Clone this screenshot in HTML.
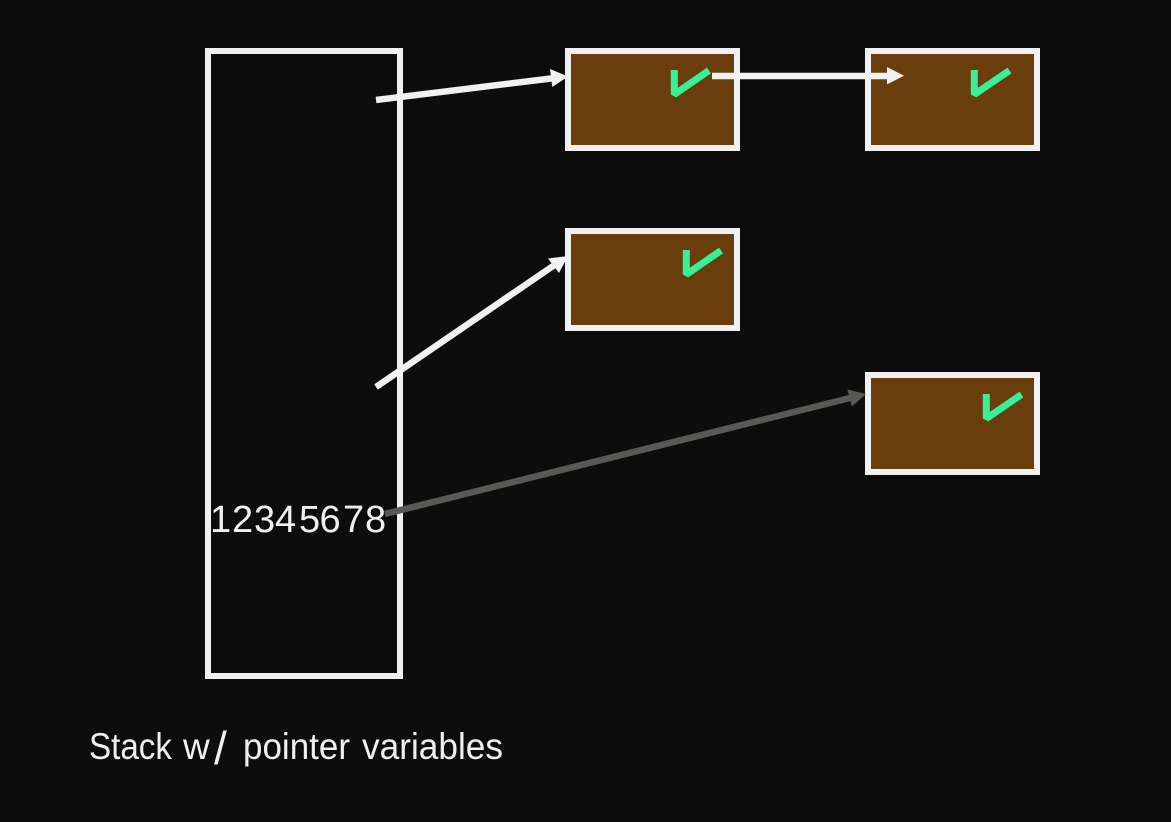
<!DOCTYPE html>
<html lang="en">
<head>
<meta charset="utf-8">
<title>Stack with pointer variables</title>
<style>
html,body{margin:0;padding:0;background:#0d0d0d;}
svg{display:block;}
text{font-family:"Liberation Sans",sans-serif;fill:#eef0f2;}
</style>
</head>
<body>
<svg width="1171" height="822" viewBox="0 0 1171 822" xmlns="http://www.w3.org/2000/svg">
  <rect x="0" y="0" width="1171" height="822" fill="#0d0d0d"/>

  <rect x="208" y="51" width="192" height="625" fill="none" stroke="#f1f1f1" stroke-width="6"/>

  <g>
    <rect x="568" y="51" width="169" height="97" fill="#693d0c" stroke="#f1f1f1" stroke-width="6"/>
    <polyline points="674.3,70 674.3,94.5 709,70.5" fill="none" stroke="#3af096" stroke-width="7" stroke-linejoin="bevel"/>
  </g>
  <g>
    <rect x="868" y="51" width="169" height="97" fill="#693d0c" stroke="#f1f1f1" stroke-width="6"/>
    <polyline points="974.3,70 974.3,94.5 1009.5,70.5" fill="none" stroke="#3af096" stroke-width="7" stroke-linejoin="bevel"/>
  </g>
  <g>
    <rect x="568" y="231" width="169" height="97" fill="#693d0c" stroke="#f1f1f1" stroke-width="6"/>
    <polyline points="686.3,250 686.3,274.5 721,250.5" fill="none" stroke="#3af096" stroke-width="7" stroke-linejoin="bevel"/>
  </g>
  <g>
    <rect x="868" y="375" width="169" height="97" fill="#693d0c" stroke="#f1f1f1" stroke-width="6"/>
    <polyline points="986.3,394 986.3,418.5 1021.5,394.5" fill="none" stroke="#3af096" stroke-width="7" stroke-linejoin="bevel"/>
  </g>

  <g>
    <line x1="376" y1="100" x2="555" y2="78" stroke="#f1f1f1" stroke-width="6.5"/>
    <polygon points="568,76.5 552.3,87 550,69" fill="#f1f1f1"/>
  </g>
  <g>
    <line x1="712" y1="76" x2="890" y2="76" stroke="#f1f1f1" stroke-width="6.5"/>
    <polygon points="904,75.7 887,67 887,84.4" fill="#f1f1f1"/>
  </g>
  <g>
    <line x1="376" y1="387" x2="556" y2="264" stroke="#f1f1f1" stroke-width="6.5"/>
    <polygon points="568,256 559,273 548,258.5" fill="#f1f1f1"/>
  </g>
  <g>
    <line x1="385" y1="514" x2="852" y2="397.5" stroke="#585855" stroke-width="6.5"/>
    <polygon points="866,394 851.8,406.5 847.4,389.5" fill="#585855"/>
  </g>

  <text x="210 232 254 275 299 319.5 343 365" y="532" font-size="38">12345678</text>
  <text y="759" font-size="37"><tspan x="89" textLength="83" lengthAdjust="spacingAndGlyphs">Stack</tspan> <tspan x="183">w</tspan><tspan x="214" dy="5" font-size="46">/</tspan> <tspan x="243" dy="-5" textLength="107" lengthAdjust="spacingAndGlyphs">pointer</tspan> <tspan x="362" textLength="141" lengthAdjust="spacingAndGlyphs">variables</tspan></text>
</svg>
</body>
</html>
